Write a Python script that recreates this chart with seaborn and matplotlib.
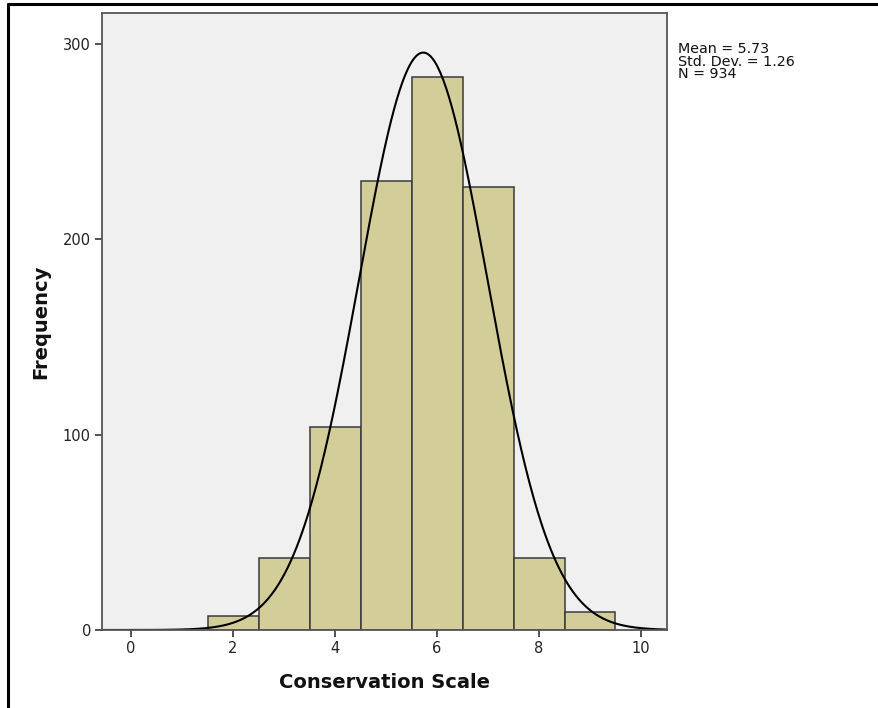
import numpy as np
import pandas as pd
import matplotlib
matplotlib.use("Agg")
import matplotlib.pyplot as plt
import seaborn as sns
from matplotlib.lines import Line2D

# Data
bin_centers = [2, 3, 4, 5, 6, 7, 8, 9]
counts = [7, 37, 104, 230, 283, 227, 37, 9]
bin_edges = [1.5, 2.5, 3.5, 4.5, 5.5, 6.5, 7.5, 8.5, 9.5]
mean_val = 5.73
sd_val = 1.26
n_val = 934
x_ticks = [0, 2, 4, 6, 8, 10]
y_ticks = [0, 100, 200, 300]

sns.set_theme(style="white")
plt.rcParams['font.family'] = ['DejaVu Sans']

fig = plt.figure(figsize=(8.79, 7.08), dpi=100)
ax = fig.add_axes([102/879, 1-630/708, (667-102)/879, (630-13)/708])
ax.set_facecolor("#F0F0F0")

df = pd.DataFrame({"value": bin_centers, "count": counts})
sns.histplot(data=df, x="value", weights="count", bins=bin_edges, ax=ax,
             color="#D3CE99", edgecolor="#3a3a3a", linewidth=1.1, alpha=1.0)

# normal curve scaled to counts (bin width 1)
xs = np.linspace(-0.55, 10.5, 400)
ys = n_val * 1.0 / (sd_val * np.sqrt(2 * np.pi)) * np.exp(-0.5 * ((xs - mean_val) / sd_val) ** 2)
sns.lineplot(x=xs, y=ys, ax=ax, color="black", linewidth=1.5)

ax.set_xlim(-0.57, 10.51)
ax.set_ylim(0, 316)
ax.set_xticks(x_ticks)
ax.set_yticks(y_ticks)
ax.tick_params(axis="both", direction="out", length=5, width=1.2, color="#333333",
               labelsize=10.5, labelcolor="#222222", pad=3)
ax.tick_params(axis="x", bottom=True)
ax.tick_params(axis="y", left=True)
for s in ax.spines.values():
    s.set_color("#555555")
    s.set_linewidth(1.3)
ax.set_xlabel("Conservation Scale", fontsize=14, fontweight="bold", labelpad=12, color="#111111")
ax.set_ylabel("Frequency", fontsize=14, fontweight="bold", labelpad=9, color="#111111")

fig.text(678/879, 1-42/708, f"Mean = {mean_val:.2f}\nStd. Dev. = {sd_val:.2f}\nN = {n_val}",
         ha="left", va="top", fontsize=10.3, linespacing=0.88, color="#111111")

# outer frame lines (left and top)
fig.add_artist(Line2D([8/879, 8/879], [0, 1-4/708], transform=fig.transFigure, color="black", linewidth=2.2))
fig.add_artist(Line2D([8/879, 1], [1-4/708, 1-4/708], transform=fig.transFigure, color="black", linewidth=2.2))

fig.savefig("out.png", dpi=100)
